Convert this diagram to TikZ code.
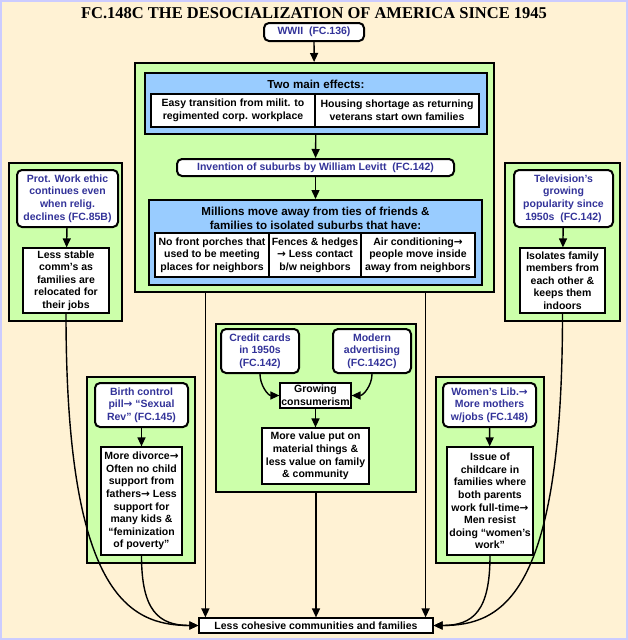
\documentclass[tikz,border=0pt]{standalone}
\usepackage{fontspec}
\setmainfont{Liberation Sans}
\newfontfamily\headfont{Liberation Serif}
\newfontfamily\symfont{DejaVu Sans}
\usepackage{tikz}
\usetikzlibrary{arrows.meta,positioning,calc}
\definecolor{cream}{HTML}{FFF2D4}
\definecolor{lav}{HTML}{CCCCFF}
\definecolor{grn}{HTML}{CCFFAA}
\definecolor{sky}{HTML}{99CCFF}
\definecolor{ink}{HTML}{333399}
\newcommand{\rarr}{{\symfont\bfseries →}}

\begin{document}
\begin{tikzpicture}[x=1pt,y=-1pt,>={Triangle[length=9pt,width=8pt]},
 every node/.style={font=\bfseries\fontsize{10.5}{12.6}\selectfont,align=center,inner sep=1pt},
 frame/.style={draw,line width=2pt,fill=grn},
 panel/.style={draw,line width=2pt,fill=sky},
 head/.style={font=\bfseries\fontsize{11.6}{14}\selectfont},
 src/.style={draw,line width=2pt,rounded corners=5pt,fill=white,text=ink},
 cell/.style={draw,line width=1.2pt,fill=white},
 link/.style={->,line width=1.4pt}]
\useasboundingbox[fill=lav] (0,0) rectangle (628,640);
\fill[cream] (2,2) rectangle (626,638);
\node[font=\headfont\bfseries\fontsize{16.5}{18}\selectfont] (title) at (314,13) {FC.148C THE DESOCIALIZATION OF AMERICA SINCE 1945};
\node[src,minimum width=100pt,minimum height=18pt] (wwii) at (314,32) {WWII\ \ (FC.136)};

\node[frame,minimum width=359pt,minimum height=229pt] (big) at (314.5,177.5) {};
\node[panel,minimum width=342pt,minimum height=61pt] (two) at (316,103.5) {};
\node[head] (twot) at (316,84) {Two main effects:};
\node[cell,minimum width=164pt,minimum height=33pt] (milit) at (233,110.5) {Easy transition from milit. to\\regimented corp. workplace};
\node[cell,minimum width=164pt,minimum height=33pt] (vets) at (397,110.5) {Housing shortage as returning\\veterans start own families};
\node[src,minimum width=277pt,minimum height=17pt] (levitt) at (315.5,167.5) {Invention of suburbs by William Levitt\ \ (FC.142)};
\node[panel,minimum width=333pt,minimum height=85pt] (move) at (315.5,242.5) {};
\node[head] (movet) at (315.5,218) {Millions move away from ties of friends \&\\families to isolated suburbs that have:};
\node[cell,minimum width=114pt,minimum height=44pt] (porch) at (212,255) {No front porches that\\used to be meeting\\places for neighbors};
\node[cell,minimum width=92pt,minimum height=44pt] (fence) at (315,255) {Fences \& hedges\\\rarr\ Less contact\\b/w neighbors};
\node[cell,minimum width=114pt,minimum height=44pt] (air) at (418,255) {Air conditioning\rarr\\people move inside\\away from neighbors};

\node[frame,minimum width=113pt,minimum height=158pt] (protf) at (65.5,242) {};
\node[src,minimum width=101pt,minimum height=57pt] (prot) at (67.5,198.5) {Prot. Work ethic\\continues even\\when relig.\\declines (FC.85B)};
\node[cell,minimum width=86pt,minimum height=65pt] (stable) at (66,280.5) {Less stable\\comm’s as\\families are\\relocated for\\their jobs};
\node[frame,minimum width=115pt,minimum height=158pt] (tvf) at (562.5,242) {};
\node[src,minimum width=99pt,minimum height=57pt] (tv) at (563.5,198.5) {Television’s\\growing\\popularity since\\1950s\ \ (FC.142)};
\node[cell,minimum width=85pt,minimum height=65pt] (isol) at (562.5,280.5) {Isolates family\\members from\\each other \&\\keeps them\\indoors};

\node[frame,minimum width=200pt,minimum height=168pt] (cons) at (316,408) {};
\node[src,minimum width=78pt,minimum height=44pt] (credit) at (260,351) {Credit cards\\in 1950s\\(FC.142)};
\node[src,minimum width=78pt,minimum height=44pt] (adv) at (372,351) {Modern\\advertising\\(FC.142C)};
\node[cell,minimum width=71pt,minimum height=25pt,inner sep=0pt] (grow) at (315.5,395.5) {Growing\\consumerism};
\node[cell,minimum width=107pt,minimum height=56pt] (value) at (315.5,456) {More value put on\\material things \&\\less value on family\\\& community};

\node[frame,minimum width=108pt,minimum height=186pt] (pillf) at (141,470) {};
\node[src,minimum width=93pt,minimum height=44pt] (pill) at (141.5,405) {Birth control\\pill\rarr\ “Sexual\\Rev” (FC.145)};
\node[cell,minimum width=81pt,minimum height=108pt] (divorce) at (141.5,501) {More divorce\rarr\\Often no child\\support from\\fathers\rarr\ Less\\support for\\many kids \&\\“feminization\\of poverty”};
\node[frame,minimum width=108pt,minimum height=186pt] (libf) at (490,470) {};
\node[src,minimum width=93pt,minimum height=44pt] (lib) at (489.5,405) {Women’s Lib.\rarr\\More mothers\\w/jobs (FC.148)};
\node[cell,minimum width=86pt,minimum height=108pt,inner sep=0pt] (child) at (490,501) {Issue of\\childcare in\\families where\\both parents\\work full-time\rarr\\Men resist\\doing “women’s\\work”};

\node[cell,minimum width=234pt,minimum height=15pt,inner sep=0pt] (less) at (316,625.5) {Less cohesive communities and families};

\draw[link] (wwii)--(big); \draw[link] (two)--(levitt); \draw[link] (levitt)--(move);
\draw[link] (prot)--(stable); \draw[link] (tv)--(isol);
\draw[link] (pill)--(divorce); \draw[link] (lib)--(child);
\draw[link] (credit.south) to[out=-90,in=180] (grow.west);
\draw[link] (adv.south) to[out=-90,in=0] (grow.east);
\draw[link] (grow)--(value);
\draw[link] ([xshift=7pt]less.north west |- big.south) -- ([xshift=7pt]less.north west);
\draw[link] ([xshift=-8pt]less.north east |- big.south) -- ([xshift=-8pt]less.north east);
\draw[link] (cons.south) -- (less.north);
\draw[link] (stable.south) .. controls +(0,280) and +(-70,0) .. (less.west);
\draw[link] (divorce.south) .. controls +(0,55) and +(-40,0) .. (less.west);
\draw[link] (isol.south) .. controls +(0,280) and +(70,0) .. (less.east);
\draw[link] (child.south) .. controls +(0,55) and +(40,0) .. (less.east);
\end{tikzpicture}
\end{document}
